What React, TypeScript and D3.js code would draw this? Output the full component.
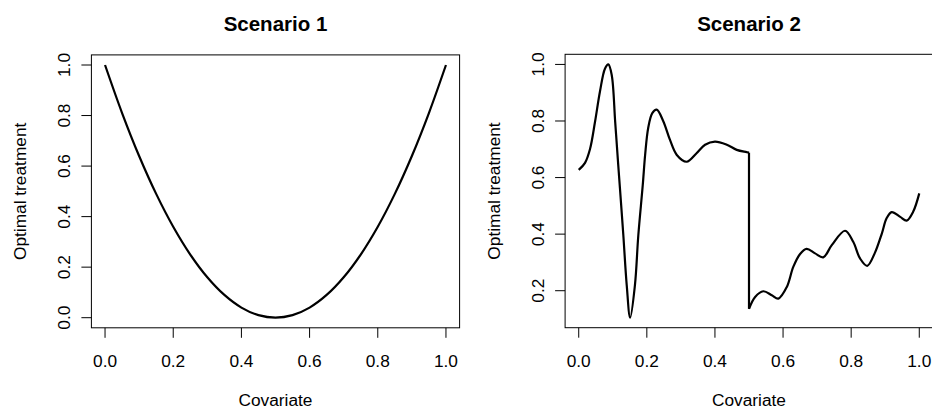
import React from "react";
import * as d3 from "d3";

// Scenario 1 curve
const s1X = [0, 0.05, 0.1, 0.15, 0.2, 0.25, 0.3, 0.35, 0.4, 0.45, 0.5, 0.55, 0.6, 0.65, 0.7, 0.75, 0.8, 0.85, 0.9, 0.95, 1.0];
const s1Y = [1.0, 0.81, 0.64, 0.49, 0.36, 0.25, 0.16, 0.09, 0.04, 0.01, 0.0, 0.01, 0.04, 0.09, 0.16, 0.25, 0.36, 0.49, 0.64, 0.81, 1.0];

// Scenario 2 curve, part before the jump at 0.5
const s2aX = [0, 0.0185, 0.033, 0.048, 0.0625, 0.077, 0.087, 0.097, 0.107, 0.116, 0.121, 0.131, 0.141, 0.151, 0.165, 0.175, 0.188, 0.195, 0.204, 0.216, 0.229, 0.248, 0.268, 0.288, 0.317, 0.346, 0.371, 0.4, 0.435, 0.464, 0.493, 0.5];
const s2aY = [0.627, 0.652, 0.700, 0.798, 0.905, 0.985, 1.0, 0.962, 0.798, 0.645, 0.563, 0.396, 0.219, 0.105, 0.219, 0.396, 0.573, 0.68, 0.775, 0.828, 0.84, 0.8, 0.733, 0.68, 0.656, 0.686, 0.716, 0.727, 0.716, 0.698, 0.690, 0.688];
// Scenario 2 curve, part after the jump
const s2bX = [0.5, 0.518, 0.542, 0.567, 0.586, 0.611, 0.63, 0.65, 0.669, 0.694, 0.718, 0.743, 0.782, 0.806, 0.826, 0.847, 0.869, 0.89, 0.904, 0.919, 0.944, 0.963, 0.982, 1.0];
const s2bY = [0.136, 0.178, 0.198, 0.184, 0.172, 0.213, 0.284, 0.330, 0.348, 0.332, 0.318, 0.361, 0.412, 0.373, 0.314, 0.288, 0.332, 0.402, 0.456, 0.478, 0.461, 0.448, 0.479, 0.544];

const xTicks = [0, 0.2, 0.4, 0.6, 0.8, 1.0];
const y1Ticks = [0, 0.2, 0.4, 0.6, 0.8, 1.0];
const y2Ticks = [0.2, 0.4, 0.6, 0.8, 1.0];

const titles = ["Scenario 1", "Scenario 2"];
const xLabel = "Covariate";
const yLabel = "Optimal treatment";

const FONT = "'Liberation Sans', Arial, Helvetica, sans-serif";

function padExtent(vals: number[][]): [number, number] {
  const all = vals.flat();
  const lo = d3.min(all) as number;
  const hi = d3.max(all) as number;
  const p = (hi - lo) * 0.04;
  return [lo - p, hi + p];
}

type PanelProps = {
  left: number;
  right: number;
  top: number;
  bottom: number;
  segments: { xs: number[]; ys: number[] }[];
  yTicks: number[];
  title: string;
};

function Panel({ left, right, top, bottom, segments, yTicks, title }: PanelProps) {
  const x = d3.scaleLinear().domain(padExtent(segments.map((s) => s.xs))).range([left, right]);
  const y = d3.scaleLinear().domain(padExtent(segments.map((s) => s.ys))).range([bottom, top]);
  const line = d3
    .line<[number, number]>()
    .x((d) => x(d[0]))
    .y((d) => y(d[1]))
    .curve(d3.curveCatmullRom.alpha(0.5));
  const paths = segments.map((s) => line(s.xs.map((v, i) => [v, s.ys[i]] as [number, number])) as string);
  const joins = segments.slice(1).map((s, i) => {
    const prev = segments[i];
    return {
      x1: x(prev.xs[prev.xs.length - 1]),
      y1: y(prev.ys[prev.ys.length - 1]),
      x2: x(s.xs[0]),
      y2: y(s.ys[0]),
    };
  });
  const cx = (left + right) / 2;
  const cy = (top + bottom) / 2;
  const tickLen = 10;
  const fmt = d3.format(".1f");
  return (
    <g>
      <text x={cx} y={31} textAnchor="middle" fontFamily={FONT} fontWeight="bold" fontSize={20.5}>
        {title}
      </text>
      <rect x={left} y={top} width={right - left} height={bottom - top} fill="none" stroke="#000" strokeWidth={1} />
      {xTicks.map((t) => (
        <g key={"x" + t}>
          <line x1={x(t)} x2={x(t)} y1={bottom} y2={bottom + tickLen} stroke="#000" strokeWidth={1} />
          <text x={x(t)} y={367} textAnchor="middle" fontFamily={FONT} fontSize={17.3}>
            {fmt(t)}
          </text>
        </g>
      ))}
      {yTicks.map((t) => (
        <g key={"y" + t}>
          <line x1={left - tickLen} x2={left} y1={y(t)} y2={y(t)} stroke="#000" strokeWidth={1} />
          <text
            transform={`translate(${left - 21.5},${y(t)}) rotate(-90)`}
            textAnchor="middle"
            fontFamily={FONT}
            fontSize={17.3}
          >
            {fmt(t)}
          </text>
        </g>
      ))}
      <text x={cx} y={405.5} textAnchor="middle" fontFamily={FONT} fontSize={17.3}>
        {xLabel}
      </text>
      <text
        transform={`translate(${left - 65.5},${cy}) rotate(-90)`}
        textAnchor="middle"
        fontFamily={FONT}
        fontSize={17.3}
      >
        {yLabel}
      </text>
      {paths.map((d, i) => (
        <path key={i} d={d} fill="none" stroke="#000" strokeWidth={2.2} strokeLinejoin="round" />
      ))}
      {joins.map((j, i) => (
        <line key={"j" + i} {...j} stroke="#000" strokeWidth={2.2} />
      ))}
    </g>
  );
}

export default function App() {
  return (
    <svg
      width={932}
      height={409}
      style={{ position: "absolute", left: 0, top: 0, background: "#fff" }}
    >
      <rect x={0} y={0} width={932} height={409} fill="#fff" />
      <Panel
        left={91.4}
        right={459.6}
        top={54.9}
        bottom={327.8}
        segments={[{ xs: s1X, ys: s1Y }]}
        yTicks={y1Ticks}
        title={titles[0]}
      />
      <Panel
        left={565.1}
        right={932.9}
        top={54.3}
        bottom={327.7}
        segments={[
          { xs: s2aX, ys: s2aY },
          { xs: s2bX, ys: s2bY },
        ]}
        yTicks={y2Ticks}
        title={titles[1]}
      />
    </svg>
  );
}
